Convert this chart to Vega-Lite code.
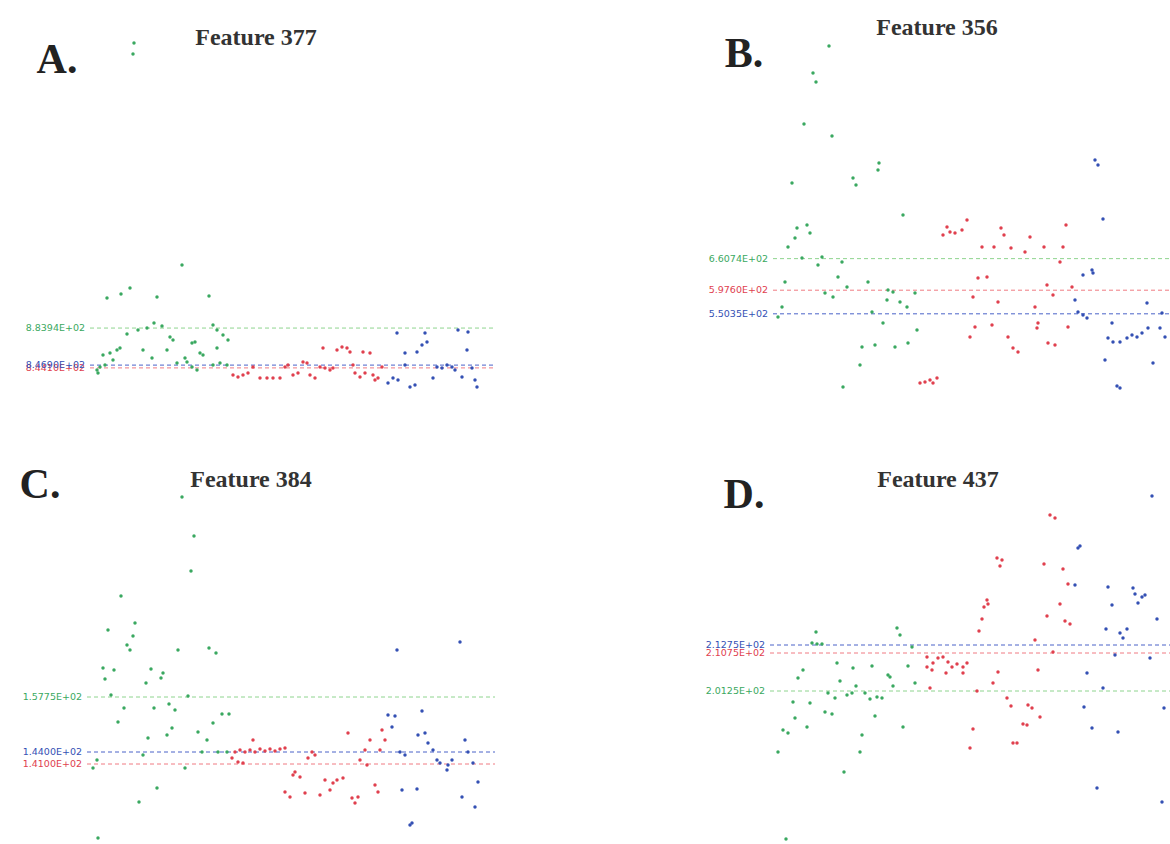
{
"$schema":"https://vega.github.io/schema/vega-lite/v6.json",
"padding":0,
"background":"white",
"config":{"view":{"stroke":null}},
"datasets":{
"means":[
{"panel":"A","group":"G1","mean":883.94,"label":"8.8394E+02"},
{"panel":"A","group":"G2","mean":844.1,"label":"8.4410E+02"},
{"panel":"A","group":"G3","mean":846.9,"label":"8.4690E+02"},
{"panel":"B","group":"G1","mean":660.74,"label":"6.6074E+02"},
{"panel":"B","group":"G2","mean":597.6,"label":"5.9760E+02"},
{"panel":"B","group":"G3","mean":550.35,"label":"5.5035E+02"},
{"panel":"C","group":"G1","mean":157.75,"label":"1.5775E+02"},
{"panel":"C","group":"G2","mean":141.0,"label":"1.4100E+02"},
{"panel":"C","group":"G3","mean":144.0,"label":"1.4400E+02"},
{"panel":"D","group":"G2","mean":210.75,"label":"2.1075E+02"},
{"panel":"D","group":"G3","mean":212.75,"label":"2.1275E+02"},
{"panel":"D","group":"G1","mean":201.25,"label":"2.0125E+02"}
],
"points":[
{"panel":"A","group":"G1","x":26.8,"y":1169},{"panel":"A","group":"G1","x":26.6,"y":1158},{"panel":"A","group":"G1","x":36.4,"y":947},{"panel":"A","group":"G1","x":21.4,"y":914},{"panel":"A","group":"G1","x":24.2,"y":918},{"panel":"A","group":"G1","x":26,"y":924},{"panel":"A","group":"G1","x":31.4,"y":915},{"panel":"A","group":"G1","x":41.8,"y":916},{"panel":"A","group":"G1","x":25.4,"y":878},{"panel":"A","group":"G1","x":27.6,"y":882},{"panel":"A","group":"G1","x":29.4,"y":884},{"panel":"A","group":"G1","x":30.8,"y":889},{"panel":"A","group":"G1","x":32.4,"y":886},{"panel":"A","group":"G1","x":34,"y":875},{"panel":"A","group":"G1","x":34.6,"y":872},{"panel":"A","group":"G1","x":33.4,"y":862},{"panel":"A","group":"G1","x":38.4,"y":869},{"panel":"A","group":"G1","x":39,"y":870},{"panel":"A","group":"G1","x":42.6,"y":887},{"panel":"A","group":"G1","x":43.4,"y":882},{"panel":"A","group":"G1","x":44.6,"y":877},{"panel":"A","group":"G1","x":45.6,"y":872},{"panel":"A","group":"G1","x":43.4,"y":864},{"panel":"A","group":"G1","x":40,"y":859},{"panel":"A","group":"G1","x":40.6,"y":857},{"panel":"A","group":"G1","x":37,"y":854},{"panel":"A","group":"G1","x":28.6,"y":862},{"panel":"A","group":"G1","x":23.4,"y":862},{"panel":"A","group":"G1","x":24,"y":864},{"panel":"A","group":"G1","x":22,"y":859},{"panel":"A","group":"G1","x":20.6,"y":857},{"panel":"A","group":"G1","x":22.6,"y":852},{"panel":"A","group":"G1","x":30.4,"y":854},{"panel":"A","group":"G1","x":20,"y":845},{"panel":"A","group":"G1","x":19.4,"y":842},{"panel":"A","group":"G1","x":19.6,"y":839},{"panel":"A","group":"G1","x":21,"y":847},{"panel":"A","group":"G1","x":35.4,"y":849},{"panel":"A","group":"G1","x":37.4,"y":850},{"panel":"A","group":"G1","x":38.4,"y":845},{"panel":"A","group":"G1","x":39.4,"y":842},{"panel":"A","group":"G1","x":42.6,"y":847},{"panel":"A","group":"G1","x":44,"y":849},{"panel":"A","group":"G1","x":45.4,"y":847},
{"panel":"A","group":"G2","x":46.6,"y":837},{"panel":"A","group":"G2","x":47.6,"y":835},{"panel":"A","group":"G2","x":48.6,"y":837},{"panel":"A","group":"G2","x":49.6,"y":839},{"panel":"A","group":"G2","x":50.6,"y":845},{"panel":"A","group":"G2","x":52,"y":834},{"panel":"A","group":"G2","x":53.4,"y":834},{"panel":"A","group":"G2","x":54.6,"y":834},{"panel":"A","group":"G2","x":56,"y":834},{"panel":"A","group":"G2","x":57,"y":845},{"panel":"A","group":"G2","x":57.6,"y":847},{"panel":"A","group":"G2","x":58.6,"y":837},{"panel":"A","group":"G2","x":59.6,"y":839},{"panel":"A","group":"G2","x":60.6,"y":850},{"panel":"A","group":"G2","x":61.4,"y":849},{"panel":"A","group":"G2","x":62,"y":837},{"panel":"A","group":"G2","x":63,"y":834},{"panel":"A","group":"G2","x":64,"y":845},{"panel":"A","group":"G2","x":65,"y":844},{"panel":"A","group":"G2","x":66,"y":842},{"panel":"A","group":"G2","x":66.6,"y":844},{"panel":"A","group":"G2","x":64.6,"y":864},{"panel":"A","group":"G2","x":67.4,"y":862},{"panel":"A","group":"G2","x":68.4,"y":865},{"panel":"A","group":"G2","x":69.4,"y":864},{"panel":"A","group":"G2","x":70,"y":860},{"panel":"A","group":"G2","x":72.6,"y":860},{"panel":"A","group":"G2","x":74,"y":859},{"panel":"A","group":"G2","x":70.6,"y":847},{"panel":"A","group":"G2","x":71,"y":839},{"panel":"A","group":"G2","x":72,"y":835},{"panel":"A","group":"G2","x":73,"y":839},{"panel":"A","group":"G2","x":74.6,"y":837},{"panel":"A","group":"G2","x":75,"y":832},{"panel":"A","group":"G2","x":75.6,"y":834},{"panel":"A","group":"G2","x":76.4,"y":845},
{"panel":"A","group":"G3","x":79.4,"y":879},{"panel":"A","group":"G3","x":81,"y":859},{"panel":"A","group":"G3","x":83.4,"y":860},{"panel":"A","group":"G3","x":84.4,"y":867},{"panel":"A","group":"G3","x":85.4,"y":870},{"panel":"A","group":"G3","x":85,"y":879},{"panel":"A","group":"G3","x":77.6,"y":829},{"panel":"A","group":"G3","x":78.6,"y":834},{"panel":"A","group":"G3","x":79.6,"y":832},{"panel":"A","group":"G3","x":82,"y":825},{"panel":"A","group":"G3","x":83,"y":827},{"panel":"A","group":"G3","x":86.6,"y":834},{"panel":"A","group":"G3","x":87.4,"y":845},{"panel":"A","group":"G3","x":88.4,"y":844},{"panel":"A","group":"G3","x":89.4,"y":847},{"panel":"A","group":"G3","x":90.4,"y":845},{"panel":"A","group":"G3","x":91,"y":842},{"panel":"A","group":"G3","x":92.4,"y":835},{"panel":"A","group":"G3","x":91.6,"y":882},{"panel":"A","group":"G3","x":93.6,"y":880},{"panel":"A","group":"G3","x":93.4,"y":862},{"panel":"A","group":"G3","x":94.4,"y":844},{"panel":"A","group":"G3","x":95,"y":832},{"panel":"A","group":"G3","x":95.4,"y":825},{"panel":"A","group":"G3","x":81,"y":847},
{"panel":"B","group":"G1","x":29.8,"y":1086},{"panel":"B","group":"G1","x":26.6,"y":1032},{"panel":"B","group":"G1","x":27.2,"y":1014},{"panel":"B","group":"G1","x":24.8,"y":930},{"panel":"B","group":"G1","x":30.4,"y":906},{"panel":"B","group":"G1","x":22.4,"y":812},{"panel":"B","group":"G1","x":34.6,"y":822},{"panel":"B","group":"G1","x":35.2,"y":808},{"panel":"B","group":"G1","x":39.8,"y":852},{"panel":"B","group":"G1","x":39.6,"y":838},{"panel":"B","group":"G1","x":44.6,"y":748},{"panel":"B","group":"G1","x":23.4,"y":722},{"panel":"B","group":"G1","x":25.4,"y":728},{"panel":"B","group":"G1","x":26,"y":712},{"panel":"B","group":"G1","x":23,"y":702},{"panel":"B","group":"G1","x":21.6,"y":684},{"panel":"B","group":"G1","x":24.4,"y":662},{"panel":"B","group":"G1","x":28.4,"y":664},{"panel":"B","group":"G1","x":27.6,"y":648},{"panel":"B","group":"G1","x":32.4,"y":654},{"panel":"B","group":"G1","x":21,"y":614},{"panel":"B","group":"G1","x":31.6,"y":624},{"panel":"B","group":"G1","x":33.4,"y":604},{"panel":"B","group":"G1","x":37.6,"y":614},{"panel":"B","group":"G1","x":29,"y":592},{"panel":"B","group":"G1","x":30.6,"y":584},{"panel":"B","group":"G1","x":41.6,"y":598},{"panel":"B","group":"G1","x":42.6,"y":594},{"panel":"B","group":"G1","x":47,"y":592},{"panel":"B","group":"G1","x":41.4,"y":578},{"panel":"B","group":"G1","x":44,"y":574},{"panel":"B","group":"G1","x":45.4,"y":564},{"panel":"B","group":"G1","x":20.4,"y":564},{"panel":"B","group":"G1","x":19.6,"y":544},{"panel":"B","group":"G1","x":38.4,"y":554},{"panel":"B","group":"G1","x":40.6,"y":532},{"panel":"B","group":"G1","x":47.4,"y":518},{"panel":"B","group":"G1","x":36.4,"y":484},{"panel":"B","group":"G1","x":39,"y":488},{"panel":"B","group":"G1","x":43,"y":484},{"panel":"B","group":"G1","x":45.6,"y":492},{"panel":"B","group":"G1","x":36,"y":448},{"panel":"B","group":"G1","x":32.6,"y":404},
{"panel":"B","group":"G2","x":53.4,"y":724},{"panel":"B","group":"G2","x":54,"y":714},{"panel":"B","group":"G2","x":55,"y":712},{"panel":"B","group":"G2","x":56.4,"y":718},{"panel":"B","group":"G2","x":57.4,"y":738},{"panel":"B","group":"G2","x":52.6,"y":708},{"panel":"B","group":"G2","x":64.2,"y":722},{"panel":"B","group":"G2","x":64.8,"y":708},{"panel":"B","group":"G2","x":60.4,"y":684},{"panel":"B","group":"G2","x":62.8,"y":684},{"panel":"B","group":"G2","x":66.2,"y":682},{"panel":"B","group":"G2","x":70,"y":704},{"panel":"B","group":"G2","x":69,"y":674},{"panel":"B","group":"G2","x":72.8,"y":684},{"panel":"B","group":"G2","x":76.6,"y":684},{"panel":"B","group":"G2","x":77.2,"y":728},{"panel":"B","group":"G2","x":76,"y":654},{"panel":"B","group":"G2","x":59.6,"y":622},{"panel":"B","group":"G2","x":61.4,"y":624},{"panel":"B","group":"G2","x":58.6,"y":584},{"panel":"B","group":"G2","x":63.6,"y":574},{"panel":"B","group":"G2","x":73.4,"y":608},{"panel":"B","group":"G2","x":74.6,"y":588},{"panel":"B","group":"G2","x":78.4,"y":604},{"panel":"B","group":"G2","x":71,"y":564},{"panel":"B","group":"G2","x":59,"y":524},{"panel":"B","group":"G2","x":58,"y":504},{"panel":"B","group":"G2","x":62.4,"y":528},{"panel":"B","group":"G2","x":65.6,"y":504},{"panel":"B","group":"G2","x":66.6,"y":482},{"panel":"B","group":"G2","x":67.6,"y":474},{"panel":"B","group":"G2","x":71.6,"y":532},{"panel":"B","group":"G2","x":71.4,"y":522},{"panel":"B","group":"G2","x":77.6,"y":524},{"panel":"B","group":"G2","x":73.6,"y":492},{"panel":"B","group":"G2","x":75,"y":488},{"panel":"B","group":"G2","x":48,"y":412},{"panel":"B","group":"G2","x":49,"y":414},{"panel":"B","group":"G2","x":50,"y":418},{"panel":"B","group":"G2","x":51.4,"y":422},{"panel":"B","group":"G2","x":50.6,"y":412},
{"panel":"B","group":"G3","x":83,"y":858},{"panel":"B","group":"G3","x":83.6,"y":848},{"panel":"B","group":"G3","x":84.6,"y":740},{"panel":"B","group":"G3","x":80.6,"y":628},{"panel":"B","group":"G3","x":82.4,"y":638},{"panel":"B","group":"G3","x":82.6,"y":632},{"panel":"B","group":"G3","x":79,"y":578},{"panel":"B","group":"G3","x":79.6,"y":554},{"panel":"B","group":"G3","x":80.6,"y":548},{"panel":"B","group":"G3","x":81.4,"y":542},{"panel":"B","group":"G3","x":86.4,"y":532},{"panel":"B","group":"G3","x":93.4,"y":572},{"panel":"B","group":"G3","x":85.6,"y":502},{"panel":"B","group":"G3","x":86.6,"y":494},{"panel":"B","group":"G3","x":88,"y":494},{"panel":"B","group":"G3","x":89.4,"y":502},{"panel":"B","group":"G3","x":90.4,"y":508},{"panel":"B","group":"G3","x":91.4,"y":504},{"panel":"B","group":"G3","x":92.4,"y":512},{"panel":"B","group":"G3","x":93.6,"y":522},{"panel":"B","group":"G3","x":96,"y":522},{"panel":"B","group":"G3","x":97,"y":504},{"panel":"B","group":"G3","x":96.4,"y":552},{"panel":"B","group":"G3","x":85,"y":458},{"panel":"B","group":"G3","x":94.6,"y":452},{"panel":"B","group":"G3","x":88,"y":402},{"panel":"B","group":"G3","x":87.4,"y":406},
{"panel":"C","group":"G1","x":36.4,"y":207.75},{"panel":"C","group":"G1","x":38.8,"y":198},{"panel":"C","group":"G1","x":38.2,"y":189.25},{"panel":"C","group":"G1","x":24.2,"y":183},{"panel":"C","group":"G1","x":27,"y":176.25},{"panel":"C","group":"G1","x":21.6,"y":174.5},{"panel":"C","group":"G1","x":26.6,"y":173},{"panel":"C","group":"G1","x":25.4,"y":170.75},{"panel":"C","group":"G1","x":26,"y":169.5},{"panel":"C","group":"G1","x":35.6,"y":169.5},{"panel":"C","group":"G1","x":41.8,"y":170},{"panel":"C","group":"G1","x":43.2,"y":168.75},{"panel":"C","group":"G1","x":20.6,"y":165},{"panel":"C","group":"G1","x":22.8,"y":164.5},{"panel":"C","group":"G1","x":21,"y":162.25},{"panel":"C","group":"G1","x":30.2,"y":164.75},{"panel":"C","group":"G1","x":32.6,"y":163.75},{"panel":"C","group":"G1","x":32.2,"y":162.5},{"panel":"C","group":"G1","x":29.2,"y":161.25},{"panel":"C","group":"G1","x":22.2,"y":158.25},{"panel":"C","group":"G1","x":37.6,"y":158},{"panel":"C","group":"G1","x":24.8,"y":155},{"panel":"C","group":"G1","x":30.8,"y":155},{"panel":"C","group":"G1","x":33.8,"y":156},{"panel":"C","group":"G1","x":35,"y":154.5},{"panel":"C","group":"G1","x":44.4,"y":153.5},{"panel":"C","group":"G1","x":45.8,"y":153.5},{"panel":"C","group":"G1","x":23.6,"y":151.5},{"panel":"C","group":"G1","x":42.6,"y":151.25},{"panel":"C","group":"G1","x":34.4,"y":150},{"panel":"C","group":"G1","x":33.4,"y":148.25},{"panel":"C","group":"G1","x":29.6,"y":147.5},{"panel":"C","group":"G1","x":39.6,"y":149},{"panel":"C","group":"G1","x":41.4,"y":147},{"panel":"C","group":"G1","x":40.4,"y":144},{"panel":"C","group":"G1","x":28.6,"y":143.25},{"panel":"C","group":"G1","x":43.6,"y":144},{"panel":"C","group":"G1","x":45.4,"y":144},{"panel":"C","group":"G1","x":19.4,"y":142},{"panel":"C","group":"G1","x":18.6,"y":140},{"panel":"C","group":"G1","x":37,"y":140},{"panel":"C","group":"G1","x":31.4,"y":135},{"panel":"C","group":"G1","x":27.8,"y":131.5},{"panel":"C","group":"G1","x":19.6,"y":122.5},
{"panel":"C","group":"G2","x":47,"y":144},{"panel":"C","group":"G2","x":48,"y":144.5},{"panel":"C","group":"G2","x":49,"y":144},{"panel":"C","group":"G2","x":50,"y":144.5},{"panel":"C","group":"G2","x":51,"y":144},{"panel":"C","group":"G2","x":52,"y":144.75},{"panel":"C","group":"G2","x":53,"y":144.25},{"panel":"C","group":"G2","x":54,"y":144.75},{"panel":"C","group":"G2","x":55,"y":144.25},{"panel":"C","group":"G2","x":56,"y":144.75},{"panel":"C","group":"G2","x":57,"y":145},{"panel":"C","group":"G2","x":50.6,"y":147},{"panel":"C","group":"G2","x":46.4,"y":142.5},{"panel":"C","group":"G2","x":47.6,"y":141.5},{"panel":"C","group":"G2","x":48.6,"y":141.25},{"panel":"C","group":"G2","x":62.4,"y":144},{"panel":"C","group":"G2","x":63,"y":143.25},{"panel":"C","group":"G2","x":61.6,"y":142.5},{"panel":"C","group":"G2","x":59,"y":139},{"panel":"C","group":"G2","x":58.6,"y":138.25},{"panel":"C","group":"G2","x":60,"y":137.75},{"panel":"C","group":"G2","x":57,"y":134},{"panel":"C","group":"G2","x":58,"y":132.75},{"panel":"C","group":"G2","x":61,"y":133.75},{"panel":"C","group":"G2","x":64,"y":133.25},{"panel":"C","group":"G2","x":65,"y":137},{"panel":"C","group":"G2","x":66,"y":134.5},{"panel":"C","group":"G2","x":66.6,"y":136.25},{"panel":"C","group":"G2","x":67.4,"y":137},{"panel":"C","group":"G2","x":68.6,"y":137.5},{"panel":"C","group":"G2","x":70.4,"y":132.5},{"panel":"C","group":"G2","x":71,"y":131.25},{"panel":"C","group":"G2","x":71.6,"y":132.75},{"panel":"C","group":"G2","x":75,"y":135.75},{"panel":"C","group":"G2","x":75.6,"y":134},{"panel":"C","group":"G2","x":69.6,"y":148.75},{"panel":"C","group":"G2","x":72,"y":142},{"panel":"C","group":"G2","x":73,"y":144.5},{"panel":"C","group":"G2","x":73.4,"y":140.75},{"panel":"C","group":"G2","x":74,"y":147},{"panel":"C","group":"G2","x":76.4,"y":149.5},{"panel":"C","group":"G2","x":77,"y":147},{"panel":"C","group":"G2","x":76,"y":144.5},
{"panel":"C","group":"G3","x":79.4,"y":169.5},{"panel":"C","group":"G3","x":77.6,"y":153.25},{"panel":"C","group":"G3","x":79,"y":153},{"panel":"C","group":"G3","x":78.4,"y":150.25},{"panel":"C","group":"G3","x":80,"y":144},{"panel":"C","group":"G3","x":81,"y":143.25},{"panel":"C","group":"G3","x":84.4,"y":154.25},{"panel":"C","group":"G3","x":83.6,"y":148.25},{"panel":"C","group":"G3","x":85,"y":148.75},{"panel":"C","group":"G3","x":85.6,"y":146.25},{"panel":"C","group":"G3","x":86.6,"y":144.5},{"panel":"C","group":"G3","x":87.4,"y":142},{"panel":"C","group":"G3","x":88,"y":141.25},{"panel":"C","group":"G3","x":89.6,"y":140.75},{"panel":"C","group":"G3","x":90.4,"y":142},{"panel":"C","group":"G3","x":89.4,"y":139.5},{"panel":"C","group":"G3","x":92,"y":171.5},{"panel":"C","group":"G3","x":93,"y":147},{"panel":"C","group":"G3","x":93.6,"y":144},{"panel":"C","group":"G3","x":94.6,"y":141.25},{"panel":"C","group":"G3","x":95.6,"y":136.5},{"panel":"C","group":"G3","x":92.4,"y":132.75},{"panel":"C","group":"G3","x":95,"y":130.25},{"panel":"C","group":"G3","x":80.4,"y":134.5},{"panel":"C","group":"G3","x":83.4,"y":134.75},{"panel":"C","group":"G3","x":82.4,"y":126.25},{"panel":"C","group":"G3","x":82,"y":125.75},
{"panel":"D","group":"G1","x":27.2,"y":216},{"panel":"D","group":"G1","x":26.4,"y":213.25},{"panel":"D","group":"G1","x":27.4,"y":213},{"panel":"D","group":"G1","x":28.4,"y":213},{"panel":"D","group":"G1","x":43.4,"y":217},{"panel":"D","group":"G1","x":44,"y":215.25},{"panel":"D","group":"G1","x":46.4,"y":212.25},{"panel":"D","group":"G1","x":24.6,"y":206.5},{"panel":"D","group":"G1","x":23.6,"y":204.5},{"panel":"D","group":"G1","x":31.4,"y":208.25},{"panel":"D","group":"G1","x":34.6,"y":207},{"panel":"D","group":"G1","x":38.4,"y":207.5},{"panel":"D","group":"G1","x":41.6,"y":205.25},{"panel":"D","group":"G1","x":42,"y":204.75},{"panel":"D","group":"G1","x":45.6,"y":207.5},{"panel":"D","group":"G1","x":32,"y":203.75},{"panel":"D","group":"G1","x":35.2,"y":202.5},{"panel":"D","group":"G1","x":42.6,"y":202.5},{"panel":"D","group":"G1","x":47,"y":203.25},{"panel":"D","group":"G1","x":29.6,"y":200.75},{"panel":"D","group":"G1","x":31,"y":199.5},{"panel":"D","group":"G1","x":33.4,"y":200.25},{"panel":"D","group":"G1","x":34.4,"y":200.75},{"panel":"D","group":"G1","x":37,"y":200.75},{"panel":"D","group":"G1","x":38,"y":199.25},{"panel":"D","group":"G1","x":39.4,"y":199.75},{"panel":"D","group":"G1","x":40.4,"y":199.5},{"panel":"D","group":"G1","x":22.6,"y":198.5},{"panel":"D","group":"G1","x":26,"y":198.25},{"panel":"D","group":"G1","x":29,"y":196},{"panel":"D","group":"G1","x":30.4,"y":195.5},{"panel":"D","group":"G1","x":39,"y":195},{"panel":"D","group":"G1","x":23,"y":194.5},{"panel":"D","group":"G1","x":25.4,"y":192.25},{"panel":"D","group":"G1","x":20.6,"y":191.5},{"panel":"D","group":"G1","x":21.6,"y":190.75},{"panel":"D","group":"G1","x":44.6,"y":192.25},{"panel":"D","group":"G1","x":36.4,"y":190.25},{"panel":"D","group":"G1","x":19.6,"y":186},{"panel":"D","group":"G1","x":36,"y":186},{"panel":"D","group":"G1","x":32.8,"y":181},{"panel":"D","group":"G1","x":21.2,"y":164.25},
{"panel":"D","group":"G2","x":74,"y":245.25},{"panel":"D","group":"G2","x":75,"y":244.5},{"panel":"D","group":"G2","x":63.4,"y":234.5},{"panel":"D","group":"G2","x":64.4,"y":234},{"panel":"D","group":"G2","x":64,"y":232.5},{"panel":"D","group":"G2","x":72.8,"y":233},{"panel":"D","group":"G2","x":76.6,"y":231.75},{"panel":"D","group":"G2","x":77.6,"y":228},{"panel":"D","group":"G2","x":76,"y":223},{"panel":"D","group":"G2","x":73.4,"y":220},{"panel":"D","group":"G2","x":77,"y":218.75},{"panel":"D","group":"G2","x":78,"y":218},{"panel":"D","group":"G2","x":61.4,"y":224},{"panel":"D","group":"G2","x":61.6,"y":223},{"panel":"D","group":"G2","x":60.8,"y":222.25},{"panel":"D","group":"G2","x":60.4,"y":219.25},{"panel":"D","group":"G2","x":59.8,"y":216.25},{"panel":"D","group":"G2","x":71,"y":214},{"panel":"D","group":"G2","x":74.6,"y":211},{"panel":"D","group":"G2","x":49.4,"y":209.75},{"panel":"D","group":"G2","x":50.6,"y":208.25},{"panel":"D","group":"G2","x":51.6,"y":209.5},{"panel":"D","group":"G2","x":52.6,"y":209.75},{"panel":"D","group":"G2","x":53.6,"y":208.5},{"panel":"D","group":"G2","x":54.4,"y":207.25},{"panel":"D","group":"G2","x":55.4,"y":208},{"panel":"D","group":"G2","x":56.6,"y":207.25},{"panel":"D","group":"G2","x":57.4,"y":208.25},{"panel":"D","group":"G2","x":49.4,"y":207.25},{"panel":"D","group":"G2","x":50.4,"y":206.5},{"panel":"D","group":"G2","x":53.2,"y":205.75},{"panel":"D","group":"G2","x":56.6,"y":205.75},{"panel":"D","group":"G2","x":71.6,"y":206.5},{"panel":"D","group":"G2","x":63.6,"y":206},{"panel":"D","group":"G2","x":62.6,"y":203.25},{"panel":"D","group":"G2","x":59.4,"y":201.25},{"panel":"D","group":"G2","x":50,"y":202},{"panel":"D","group":"G2","x":65.4,"y":199.5},{"panel":"D","group":"G2","x":66.2,"y":197.5},{"panel":"D","group":"G2","x":69.6,"y":197.75},{"panel":"D","group":"G2","x":70.4,"y":197},{"panel":"D","group":"G2","x":72,"y":194.75},{"panel":"D","group":"G2","x":68.6,"y":193},{"panel":"D","group":"G2","x":69.4,"y":192.75},{"panel":"D","group":"G2","x":58.6,"y":191.75},{"panel":"D","group":"G2","x":58,"y":187},{"panel":"D","group":"G2","x":66.6,"y":188.25},{"panel":"D","group":"G2","x":67.4,"y":188.25},
{"panel":"D","group":"G3","x":94.4,"y":250},{"panel":"D","group":"G3","x":79.6,"y":237},{"panel":"D","group":"G3","x":80,"y":237.5},{"panel":"D","group":"G3","x":79,"y":227.75},{"panel":"D","group":"G3","x":85.6,"y":227.25},{"panel":"D","group":"G3","x":86.4,"y":222.75},{"panel":"D","group":"G3","x":90.6,"y":227},{"panel":"D","group":"G3","x":91,"y":225.5},{"panel":"D","group":"G3","x":91.6,"y":223.25},{"panel":"D","group":"G3","x":92.4,"y":224.75},{"panel":"D","group":"G3","x":93,"y":225.25},{"panel":"D","group":"G3","x":95.4,"y":219.25},{"panel":"D","group":"G3","x":85.2,"y":216.75},{"panel":"D","group":"G3","x":88,"y":215.75},{"panel":"D","group":"G3","x":89.4,"y":216.75},{"panel":"D","group":"G3","x":88.6,"y":214.5},{"panel":"D","group":"G3","x":87,"y":210.25},{"panel":"D","group":"G3","x":94,"y":209.5},{"panel":"D","group":"G3","x":81.4,"y":205.75},{"panel":"D","group":"G3","x":84.6,"y":202},{"panel":"D","group":"G3","x":80.8,"y":197.25},{"panel":"D","group":"G3","x":82.4,"y":192},{"panel":"D","group":"G3","x":87.6,"y":191},{"panel":"D","group":"G3","x":96.8,"y":197},{"panel":"D","group":"G3","x":83.4,"y":177},{"panel":"D","group":"G3","x":96.4,"y":173.5}
]
},
"spacing":24,
"vconcat":[
{"spacing":180,"hconcat":[
{"width":500,"height":410,"layer":[
{"data":{"name":"means"},"transform":[{"filter":"datum.panel==='A'"}],"mark":{"type":"rule","strokeDash":[4,3],"strokeWidth":1},
"encoding":{"x":{"datum":18,"type":"quantitative","scale":{"domain":[0,100],"nice":false,"zero":false},"axis":null},"x2":{"datum":99},"y":{"field":"mean","type":"quantitative","scale":{"domain":[802,1212],"nice":false,"zero":false},"axis":null},"stroke":{"field":"group","type":"nominal","scale":{"domain":["G1","G2","G3"],"range":["#8ed48e","#f07a82","#4a62c8"]},"legend":null}}},
{"data":{"name":"means"},"transform":[{"filter":"datum.panel==='A'"}],"mark":{"type":"text","align":"right","baseline":"middle","dx":-5,"font":"DejaVu Sans","fontSize":9.5},
"encoding":{"x":{"datum":18,"type":"quantitative"},"y":{"field":"mean","type":"quantitative"},"text":{"field":"label"},"fill":{"field":"group","type":"nominal","scale":{"domain":["G1","G2","G3"],"range":["#3aa860","#e0404e","#3450b4"]},"legend":null}}},
{"data":{"name":"points"},"transform":[{"filter":"datum.panel==='A'"}],"mark":{"type":"circle","size":12,"opacity":1},
"encoding":{"x":{"field":"x","type":"quantitative"},"y":{"field":"y","type":"quantitative"},"fill":{"field":"group","type":"nominal","legend":null}}},
{"data":{"values":[{}]},"mark":{"type":"text","text":"A.","font":"Liberation Serif","fontWeight":"bold","fontSize":42,"align":"center","baseline":"alphabetic","fill":"#222222"},"encoding":{"x":{"datum":11.4,"type":"quantitative"},"y":{"datum":1139,"type":"quantitative"}}},
{"data":{"values":[{}]},"mark":{"type":"text","text":"Feature 377","font":"Liberation Serif","fontWeight":"bold","fontSize":24,"align":"center","baseline":"alphabetic","fill":"#333333"},"encoding":{"x":{"datum":51.2,"type":"quantitative"},"y":{"datum":1167,"type":"quantitative"}}}
]},
{"width":490,"height":410,"layer":[
{"data":{"name":"means"},"transform":[{"filter":"datum.panel==='B'"}],"mark":{"type":"rule","strokeDash":[4,3],"strokeWidth":1},
"encoding":{"x":{"datum":18.6,"type":"quantitative","scale":{"domain":[0,98],"nice":false,"zero":false},"axis":null},"x2":{"datum":98},"y":{"field":"mean","type":"quantitative","scale":{"domain":[358,1178],"nice":false,"zero":false},"axis":null},"stroke":{"field":"group","type":"nominal","scale":{"domain":["G1","G2","G3"],"range":["#8ed48e","#f07a82","#4a62c8"]},"legend":null}}},
{"data":{"name":"means"},"transform":[{"filter":"datum.panel==='B'"}],"mark":{"type":"text","align":"right","baseline":"middle","dx":-5,"font":"DejaVu Sans","fontSize":9.5},
"encoding":{"x":{"datum":18.6,"type":"quantitative"},"y":{"field":"mean","type":"quantitative"},"text":{"field":"label"},"fill":{"field":"group","type":"nominal","scale":{"domain":["G1","G2","G3"],"range":["#3aa860","#e0404e","#3450b4"]},"legend":null}}},
{"data":{"name":"points"},"transform":[{"filter":"datum.panel==='B'"}],"mark":{"type":"circle","size":12,"opacity":1},
"encoding":{"x":{"field":"x","type":"quantitative"},"y":{"field":"y","type":"quantitative"},"fill":{"field":"group","type":"nominal","legend":null}}},
{"data":{"values":[{}]},"mark":{"type":"text","text":"B.","font":"Liberation Serif","fontWeight":"bold","fontSize":42,"align":"center","baseline":"alphabetic","fill":"#222222"},"encoding":{"x":{"datum":12.8,"type":"quantitative"},"y":{"datum":1044,"type":"quantitative"}}},
{"data":{"values":[{}]},"mark":{"type":"text","text":"Feature 356","font":"Liberation Serif","fontWeight":"bold","fontSize":24,"align":"center","baseline":"alphabetic","fill":"#333333"},"encoding":{"x":{"datum":51.4,"type":"quantitative"},"y":{"datum":1108,"type":"quantitative"}}}
]}
]},
{"spacing":180,"hconcat":[
{"width":500,"height":410,"layer":[
{"data":{"name":"means"},"transform":[{"filter":"datum.panel==='C'"}],"mark":{"type":"rule","strokeDash":[4,3],"strokeWidth":1},
"encoding":{"x":{"datum":17.4,"type":"quantitative","scale":{"domain":[0,100],"nice":false,"zero":false},"axis":null},"x2":{"datum":99},"y":{"field":"mean","type":"quantitative","scale":{"domain":[121,223.5],"nice":false,"zero":false},"axis":null},"stroke":{"field":"group","type":"nominal","scale":{"domain":["G1","G2","G3"],"range":["#8ed48e","#f07a82","#4a62c8"]},"legend":null}}},
{"data":{"name":"means"},"transform":[{"filter":"datum.panel==='C'"}],"mark":{"type":"text","align":"right","baseline":"middle","dx":-5,"font":"DejaVu Sans","fontSize":9.5},
"encoding":{"x":{"datum":17.4,"type":"quantitative"},"y":{"field":"mean","type":"quantitative"},"text":{"field":"label"},"fill":{"field":"group","type":"nominal","scale":{"domain":["G1","G2","G3"],"range":["#3aa860","#e0404e","#3450b4"]},"legend":null}}},
{"data":{"name":"points"},"transform":[{"filter":"datum.panel==='C'"}],"mark":{"type":"circle","size":12,"opacity":1},
"encoding":{"x":{"field":"x","type":"quantitative"},"y":{"field":"y","type":"quantitative"},"fill":{"field":"group","type":"nominal","legend":null}}},
{"data":{"values":[{}]},"mark":{"type":"text","text":"C.","font":"Liberation Serif","fontWeight":"bold","fontSize":42,"align":"center","baseline":"alphabetic","fill":"#222222"},"encoding":{"x":{"datum":8,"type":"quantitative"},"y":{"datum":207.5,"type":"quantitative"}}},
{"data":{"values":[{}]},"mark":{"type":"text","text":"Feature 384","font":"Liberation Serif","fontWeight":"bold","fontSize":24,"align":"center","baseline":"alphabetic","fill":"#333333"},"encoding":{"x":{"datum":50.2,"type":"quantitative"},"y":{"datum":210.25,"type":"quantitative"}}}
]},
{"width":490,"height":410,"layer":[
{"data":{"name":"means"},"transform":[{"filter":"datum.panel==='D'"}],"mark":{"type":"rule","strokeDash":[4,3],"strokeWidth":1},
"encoding":{"x":{"datum":18,"type":"quantitative","scale":{"domain":[0,98],"nice":false,"zero":false},"axis":null},"x2":{"datum":98},"y":{"field":"mean","type":"quantitative","scale":{"domain":[163,265.5],"nice":false,"zero":false},"axis":null},"stroke":{"field":"group","type":"nominal","scale":{"domain":["G1","G2","G3"],"range":["#8ed48e","#f07a82","#4a62c8"]},"legend":null}}},
{"data":{"name":"means"},"transform":[{"filter":"datum.panel==='D'"}],"mark":{"type":"text","align":"right","baseline":"middle","dx":-5,"font":"DejaVu Sans","fontSize":9.5},
"encoding":{"x":{"datum":18,"type":"quantitative"},"y":{"field":"mean","type":"quantitative"},"text":{"field":"label"},"fill":{"field":"group","type":"nominal","scale":{"domain":["G1","G2","G3"],"range":["#3aa860","#e0404e","#3450b4"]},"legend":null}}},
{"data":{"name":"points"},"transform":[{"filter":"datum.panel==='D'"}],"mark":{"type":"circle","size":12,"opacity":1},
"encoding":{"x":{"field":"x","type":"quantitative"},"y":{"field":"y","type":"quantitative"},"fill":{"field":"group","type":"nominal","legend":null}}},
{"data":{"values":[{}]},"mark":{"type":"text","text":"D.","font":"Liberation Serif","fontWeight":"bold","fontSize":42,"align":"center","baseline":"alphabetic","fill":"#222222"},"encoding":{"x":{"datum":12.8,"type":"quantitative"},"y":{"datum":247,"type":"quantitative"}}},
{"data":{"values":[{}]},"mark":{"type":"text","text":"Feature 437","font":"Liberation Serif","fontWeight":"bold","fontSize":24,"align":"center","baseline":"alphabetic","fill":"#333333"},"encoding":{"x":{"datum":51.6,"type":"quantitative"},"y":{"datum":252.25,"type":"quantitative"}}}
]}
]}
]
}
